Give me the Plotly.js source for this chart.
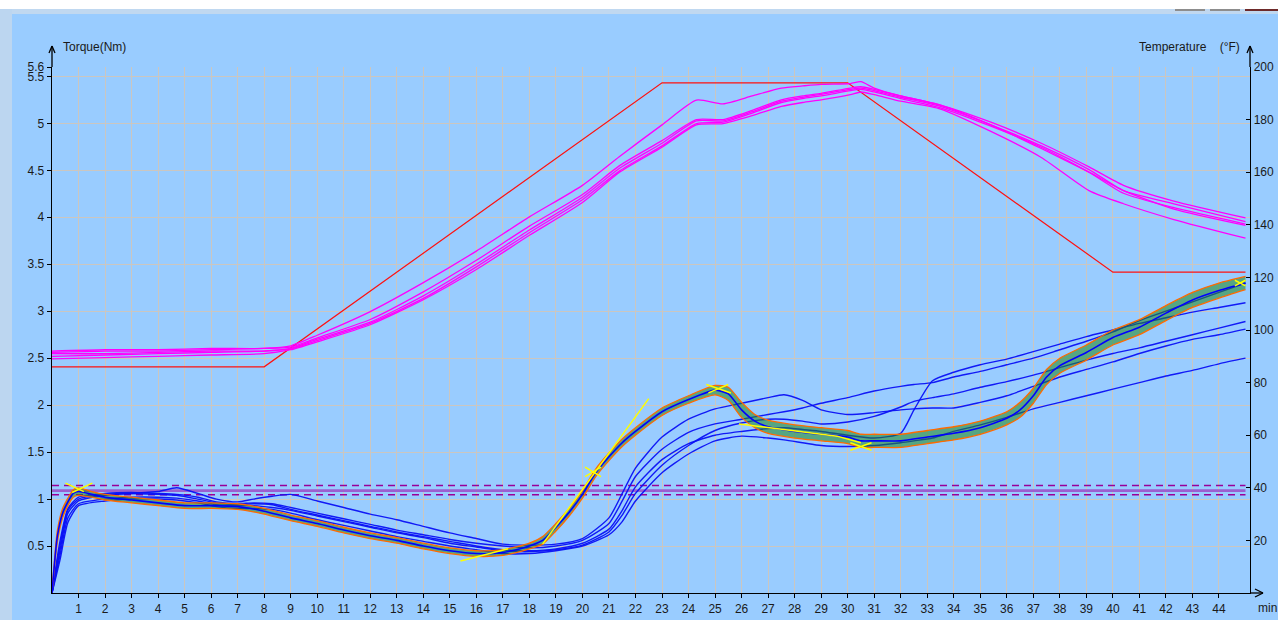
<!DOCTYPE html>
<html>
<head>
<meta charset="utf-8">
<script src="https://cdn.plot.ly/plotly-3.0.1.min.js"></script>
<style>
html,body{margin:0;padding:0;background:#99ccff;}
#chart{width:1278px;height:620px;}
</style>
</head>
<body>
<div id="chart"></div>
<script>
// ---------- data ----------
const xTickVals = [1,2,3,4,5,6,7,8,9,10,11,12,13,14,15,16,17,18,19,20,21,22,23,24,25,26,27,28,29,30,31,32,33,34,35,36,37,38,39,40,41,42,43,44];
const torqueTickVals = [0.5,1,1.5,2,2.5,3,3.5,4,4.5,5,5.5,5.6];
const torqueTickText = ['0.5','1','1.5','2','2.5','3','3.5','4','4.5','5','5.5','5.6'];
const tempTickVals = [20,40,60,80,100,120,140,160,180,200];

// temperature set program (°F)
const redT = [0,8,23,30,40,45];
const redY = [86,86,194,194,122,122];

// measured temperatures (°F)
const tempT = [0,2,4,6,8,9,10,12,14,16,18,20,21.4,23,24.3,25.3,26.4,27.5,28.3,29,30.1,30.5,31,32,33.5,35.4,37.3,39.1,40.4,42.3,45];
const temp1 = [92,92.5,92.5,93,93,94,98,107,118,130,143,155,166,178,187.4,186,189,192,192.8,193.4,193.7,194.4,192,189,185.5,178,169,160,153,146,139.8];
const temp2 = [91,91,91.5,92,92,93,96.5,103,113,125,138,150.5,161.5,171,179.5,179.5,183,187,188.5,189.6,191.5,192,191,188.5,185,178,170,161,153,148,141.2];
const temp3 = [90,90.5,91,91.5,92,92.8,96,102.5,112,124,137,149.5,160.5,170,178.5,179,182.5,186.5,188,189,191,191.5,190.5,188,184.5,177.5,169.5,160,152,146.5,140.3];
const temp4 = [89,89.5,90,90.5,91,92.5,95.5,102,111.5,123,136,148.5,160,169.5,178,178.5,181.5,185,186.5,187.5,189.5,190.5,189.5,187,184,175.5,165.6,153,148,142,134.9];
const temp5 = [91.5,92,92,92.5,93,93.5,97,104,114.5,126.5,139.5,151.5,162.5,172,180,180,183.5,187.5,189,190,192,192.5,191.5,189,185.5,179,171,162,155,149,142.6];

// reference torque curves (Nm)
const blueT = [0,0.3,0.6,1,2,3,4,4.7,5.5,6.2,7,7.6,8.3,9,10,11,12,13,14,15,16,17,18,19,20,21,21.5,22,23,24,25,26,27,27.6,28.3,29,30,31,32,32.5,33.2,34,35,36,37,38,39,40,41,42,43,44,45];
const blue1 = [0,0.45,0.85,0.98,1.04,1.06,1.08,1.12,1.06,1.0,0.97,1.0,1.03,1.05,0.98,0.91,0.84,0.78,0.71,0.64,0.58,0.52,0.51,0.52,0.58,0.8,1.06,1.33,1.66,1.85,1.96,2.02,2.08,2.11,2.05,1.95,1.9,1.92,1.95,1.96,1.97,1.97,2.03,2.1,2.2,2.3,2.38,2.46,2.55,2.63,2.7,2.75,2.81];
const blue2 = [0,0.55,0.9,1.02,1.06,1.07,1.06,1.05,1.02,0.97,0.95,0.96,0.95,0.91,0.85,0.79,0.73,0.67,0.62,0.57,0.53,0.5,0.48,0.5,0.56,0.74,0.98,1.24,1.53,1.71,1.8,1.85,1.9,1.93,1.97,2.02,2.08,2.15,2.2,2.22,2.24,2.3,2.36,2.43,2.5,2.59,2.68,2.78,2.9,3.0,3.1,3.2,3.3];
const blue3 = [0,0.5,0.88,1.0,1.05,1.06,1.05,1.04,1.0,0.96,0.94,0.95,0.94,0.89,0.83,0.77,0.71,0.65,0.6,0.55,0.5,0.46,0.45,0.47,0.53,0.68,0.88,1.13,1.42,1.59,1.68,1.72,1.75,1.76,1.74,1.72,1.68,1.65,1.7,1.95,2.26,2.35,2.43,2.49,2.57,2.65,2.73,2.8,2.87,2.93,2.99,3.04,3.09];
const blue4 = [0,0.4,0.8,0.95,1.0,1.02,1.02,1.01,0.98,0.94,0.93,0.93,0.91,0.88,0.82,0.76,0.7,0.64,0.59,0.53,0.49,0.45,0.44,0.46,0.51,0.65,0.83,1.06,1.36,1.57,1.73,1.81,1.85,1.85,1.83,1.8,1.82,1.88,1.98,2.04,2.08,2.12,2.19,2.25,2.32,2.4,2.48,2.55,2.61,2.68,2.75,2.82,2.89];
const blue5 = [0,0.35,0.75,0.93,0.98,1.0,1.0,0.99,0.96,0.92,0.9,0.9,0.89,0.85,0.78,0.72,0.66,0.6,0.55,0.5,0.46,0.42,0.42,0.45,0.5,0.62,0.76,0.98,1.28,1.48,1.62,1.67,1.65,1.63,1.6,1.57,1.56,1.57,1.6,1.62,1.65,1.72,1.79,1.87,1.96,2.03,2.1,2.17,2.24,2.31,2.37,2.44,2.5];

// current test torque (Nm): mean and noise envelope
const mainT = [0,0.2,0.4,0.6,0.8,1,1.5,2,3,4,5,6,7,7.5,8,9,10,11,12,13,14,15,16,17,17.5,18,18.5,19,19.5,20,20.5,21,21.5,22,23,24,25,25.5,26,26.5,27,28,29,30,30.5,31,32,33,34,35,36,36.5,37,37.5,38,39,40,41,42,43,44,45];
const mainMid = [0,0.6,0.85,0.97,1.06,1.08,1.05,1.02,0.99,0.96,0.93,0.93,0.92,0.9,0.87,0.8,0.74,0.67,0.61,0.56,0.5,0.45,0.42,0.43,0.46,0.5,0.56,0.7,0.86,1.05,1.28,1.45,1.6,1.72,1.93,2.06,2.16,2.12,1.95,1.83,1.77,1.72,1.69,1.66,1.62,1.62,1.62,1.66,1.7,1.76,1.86,1.95,2.1,2.3,2.42,2.56,2.72,2.83,2.98,3.12,3.22,3.3];
const mainUp = [0.02,0.66,0.9,1.01,1.1,1.12,1.08,1.05,1.02,0.99,0.96,0.96,0.95,0.93,0.9,0.83,0.77,0.7,0.64,0.59,0.53,0.48,0.45,0.46,0.49,0.53,0.6,0.74,0.9,1.09,1.32,1.49,1.64,1.76,1.97,2.1,2.21,2.19,2.03,1.9,1.84,1.79,1.76,1.73,1.69,1.69,1.69,1.73,1.77,1.83,1.93,2.03,2.18,2.38,2.5,2.64,2.8,2.91,3.06,3.2,3.3,3.37];
const mainLo = [0,0.54,0.8,0.93,1.02,1.04,1.02,0.99,0.96,0.93,0.9,0.9,0.89,0.87,0.84,0.77,0.71,0.64,0.58,0.53,0.47,0.42,0.39,0.4,0.43,0.47,0.52,0.66,0.82,1.01,1.24,1.41,1.56,1.68,1.89,2.02,2.11,2.05,1.87,1.76,1.7,1.65,1.62,1.59,1.55,1.55,1.55,1.59,1.63,1.69,1.79,1.87,2.02,2.22,2.34,2.48,2.64,2.75,2.9,3.04,3.14,3.23];

// tolerance band (Nm)
const limT = [0,45];
const limMid = [1.09,1.09];
const limHi = [1.145,1.145];
const limLo = [1.046,1.046];

// evaluation marks (tangents / crosses)
const markX = [0.51,1.2,null,0.76,1.52,null,15.4,17.2,null,18.5,22.5,null,20.1,20.7,null,20.1,20.7,null,24.67,25.6,null,24.75,25.5,null,25.9,27,29.6,30.5,null,30.1,30.9,null,30.1,30.9,null,44.6,45,null,44.6,45];
const markY = [1.17,1.08,null,1.07,1.17,null,0.34,0.47,null,0.52,2.07,null,1.24,1.34,null,1.34,1.24,null,2.22,2.13,null,2.13,2.22,null,1.8,1.76,1.67,1.6,null,1.6,1.52,null,1.52,1.6,null,3.33,3.27,null,3.27,3.33];

// ---------- traces ----------
const sp = {shape:'spline', smoothing:0.6};
const traces = [];
traces.push({x:limT, y:limHi, mode:'lines', line:{color:'#990099', width:1.5, dash:'7px,5px'}});
traces.push({x:limT, y:limLo, mode:'lines', line:{color:'#990099', width:1.5, dash:'7px,5px'}});
traces.push({x:limT, y:limMid, mode:'lines', line:{color:'#9b5fd0', width:2.6}});
[blue1,blue2,blue3,blue4,blue5].forEach(b=>{
  traces.push({x:blueT, y:b, mode:'lines', line:Object.assign({color:'#0a10f5', width:1.4}, sp), opacity:0.95});
});
traces.push({x:mainT, y:mainLo, mode:'lines', line:Object.assign({color:'#ff6a00', width:1.3}, sp)});
traces.push({x:mainT, y:mainUp, mode:'lines', fill:'tonexty', fillcolor:'rgba(30,135,30,0.55)', line:Object.assign({color:'#ff6a00', width:1.3}, sp)});
traces.push({x:mainT, y:mainMid, mode:'lines', line:Object.assign({color:'#0000ff', width:1.6}, sp)});
traces.push({x:markX, y:markY, mode:'lines', connectgaps:false, line:{color:'#ffff00', width:1.5}});
traces.push({x:redT, y:redY, yaxis:'y2', mode:'lines', line:{color:'#ff1010', width:1.2}});
[temp1,temp2,temp3,temp4,temp5].forEach(m=>{
  traces.push({x:tempT, y:m, yaxis:'y2', mode:'lines', line:Object.assign({color:'#ff00ff', width:1.3}, sp)});
});

// ---------- layout helpers (pixel -> paper) ----------
const L=52, R=1250, T=67, B=593;
const W=R-L, H=B-T;
const px = v => (v-L)/W;
const py = v => (B-v)/H;

const gridC = '#cbc6c0';
const shapes = [
  // window frame
  {type:'rect', xref:'paper', yref:'paper', x0:px(0), x1:px(1278), y0:py(9), y1:py(0), fillcolor:'#ffffff', line:{width:0}},
  {type:'rect', xref:'paper', yref:'paper', x0:px(0), x1:px(1278), y0:py(14), y1:py(9), fillcolor:'#c0d8f0', line:{width:0}},
  {type:'rect', xref:'paper', yref:'paper', x0:px(0), x1:px(12), y0:py(620), y1:py(9), fillcolor:'#bcd6f0', line:{width:0}},
  {type:'rect', xref:'paper', yref:'paper', x0:px(1175), x1:px(1205), y0:py(11), y1:py(9), fillcolor:'#8d8d8d', line:{width:0}},
  {type:'rect', xref:'paper', yref:'paper', x0:px(1210), x1:px(1240), y0:py(11), y1:py(9), fillcolor:'#8d8d8d', line:{width:0}},
  {type:'rect', xref:'paper', yref:'paper', x0:px(1245), x1:px(1278), y0:py(11), y1:py(9), fillcolor:'#6e2a2a', line:{width:0}},
  // axis extensions with open arrow heads
  {type:'line', xref:'paper', yref:'paper', x0:0, x1:0, y0:1, y1:py(46), line:{color:'#000', width:1.3}},
  {type:'line', xref:'paper', yref:'paper', x0:px(49), x1:0, y0:py(53), y1:py(46), line:{color:'#000', width:1.3}},
  {type:'line', xref:'paper', yref:'paper', x0:px(55), x1:0, y0:py(53), y1:py(46), line:{color:'#000', width:1.3}},
  {type:'line', xref:'paper', yref:'paper', x0:1, x1:1, y0:1, y1:py(46), line:{color:'#000', width:1.3}},
  {type:'line', xref:'paper', yref:'paper', x0:px(1247), x1:1, y0:py(53), y1:py(46), line:{color:'#000', width:1.3}},
  {type:'line', xref:'paper', yref:'paper', x0:px(1253), x1:1, y0:py(53), y1:py(46), line:{color:'#000', width:1.3}},
  {type:'line', xref:'paper', yref:'paper', x0:1, x1:px(1263), y0:0, y1:0, line:{color:'#000', width:1.3}},
  {type:'line', xref:'paper', yref:'paper', x0:px(1255), x1:px(1263), y0:py(589), y1:0, line:{color:'#000', width:1.3}},
  {type:'line', xref:'paper', yref:'paper', x0:px(1255), x1:px(1263), y0:py(597), y1:0, line:{color:'#000', width:1.3}}
];

const annotations = [
  {xref:'paper', yref:'paper', x:px(61), y:py(47), text:'Torque(Nm)', showarrow:false, xanchor:'left', yanchor:'middle', font:{size:12}},
  {xref:'paper', yref:'paper', x:px(1137), y:py(47), text:'Temperature\u00a0\u00a0\u00a0\u00a0(°F)', showarrow:false, xanchor:'left', yanchor:'middle', font:{size:12}},
  {xref:'paper', yref:'paper', x:px(1256), y:py(608), text:'min', showarrow:false, xanchor:'left', yanchor:'middle', font:{size:12}}
];

const layout = {
  width:1278, height:620,
  margin:{l:L, r:1278-R, t:T, b:620-B, pad:0},
  paper_bgcolor:'#99ccff', plot_bgcolor:'#99ccff',
  showlegend:false, hovermode:false,
  font:{family:'Liberation Sans, Arial, sans-serif', size:12, color:'#1a1a1a'},
  xaxis:{range:[0,45.17], tickvals:xTickVals, ticks:'outside', ticklen:4, tickcolor:'#000',
         showgrid:true, gridcolor:gridC, gridwidth:1, zeroline:false,
         showline:true, linecolor:'#000', linewidth:1.3, fixedrange:true},
  yaxis:{range:[0,5.6], tickvals:torqueTickVals, ticktext:torqueTickText, ticks:'outside', ticklen:4, tickcolor:'#000',
         showgrid:true, gridcolor:gridC, gridwidth:1, zeroline:false,
         showline:true, linecolor:'#000', linewidth:1.3, fixedrange:true},
  yaxis2:{range:[0,200], overlaying:'y', side:'right', tickvals:tempTickVals, ticks:'inside', ticklen:4, tickcolor:'#000',
          showgrid:false, zeroline:false, showline:true, linecolor:'#000', linewidth:1.3, fixedrange:true},
  shapes:shapes, annotations:annotations
};

Plotly.newPlot('chart', traces, layout, {staticPlot:true, displayModeBar:false});
</script>
</body>
</html>
